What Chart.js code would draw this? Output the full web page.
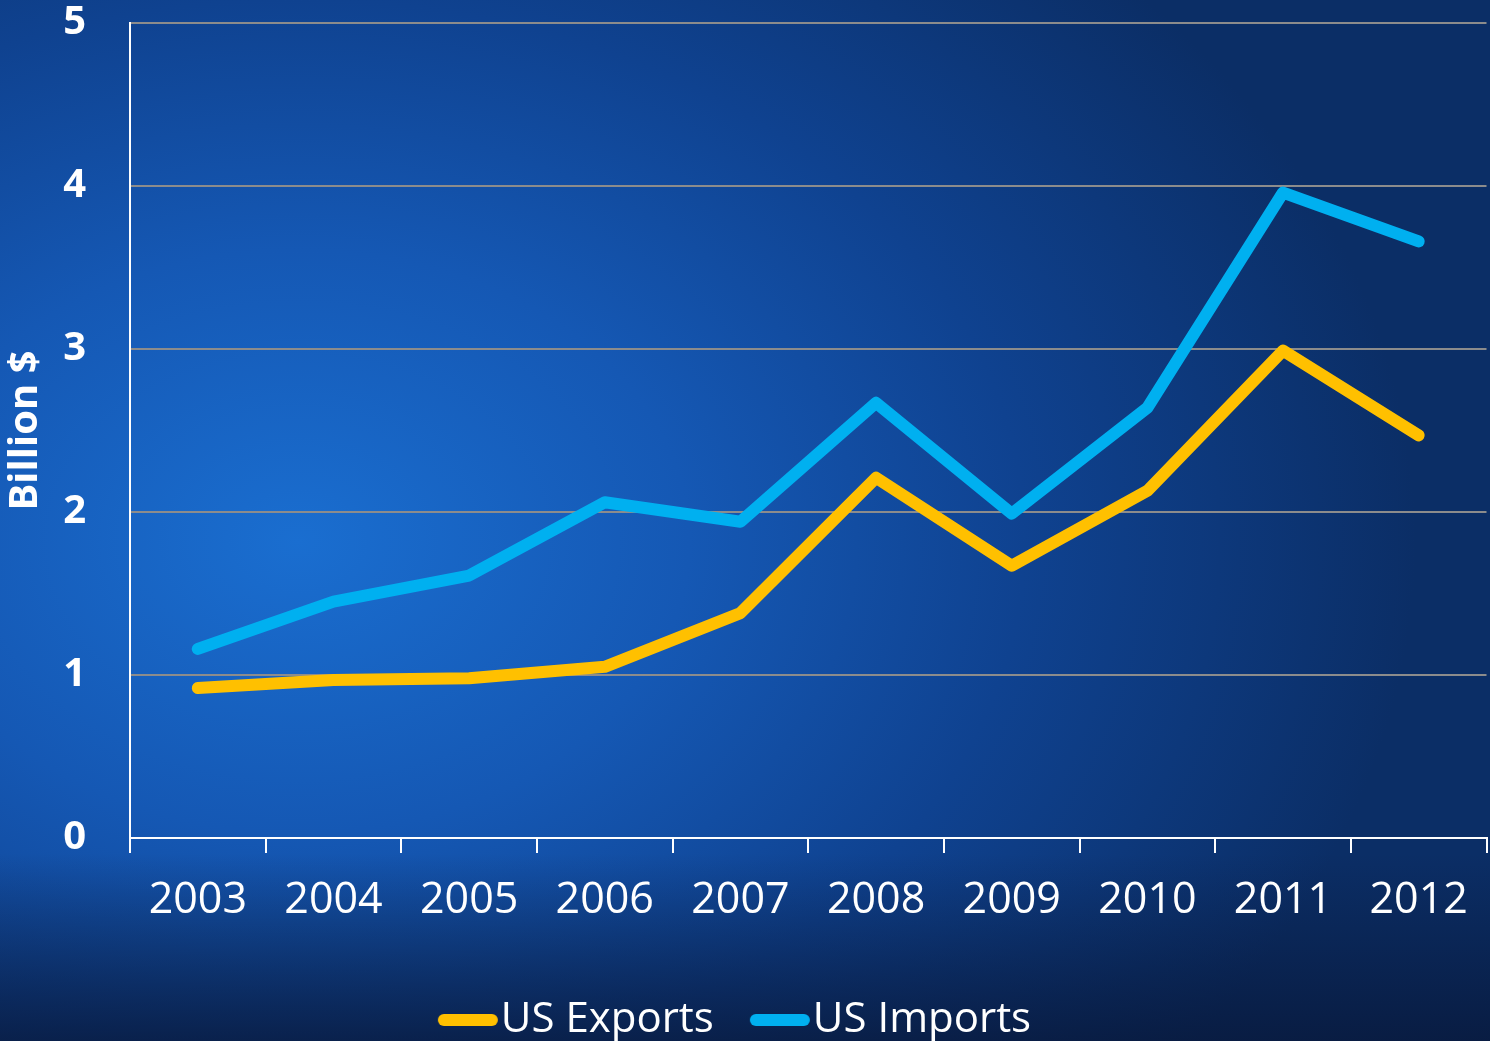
<!DOCTYPE html>
<html>
<head>
<meta charset="utf-8">
<script src="https://cdn.jsdelivr.net/npm/chart.js@4.4.1/dist/chart.umd.min.js"></script>
<style>
    html, body {
        margin: 0;
        padding: 0;
        width: 1490px;
        height: 1041px;
        overflow: hidden;
    }
    #wrap {
        width: 1490px;
        height: 1041px;
        background:
            linear-gradient(180deg, rgba(8, 24, 58, 0) 0%, rgba(8, 24, 58, 0) 82%, rgba(8, 24, 58, 0.8) 100%),
            radial-gradient(ellipse 75% 80% at 20% 52%, #1a6ed0 0%, #1558b4 35%, #0f4290 65%, #0b2e66 100%);
    }
</style>
</head>
<body>
<div id="wrap">
    <canvas id="tradeChart" width="1490" height="1041"></canvas>
</div>
<script>
const years = ["2003", "2004", "2005", "2006", "2007", "2008", "2009", "2010", "2011", "2012"];
const usExports = [0.92, 0.97, 0.98, 1.05, 1.38, 2.21, 1.67, 2.13, 2.99, 2.47];
const usImports = [1.16, 1.45, 1.61, 2.06, 1.94, 2.67, 1.99, 2.64, 3.96, 3.66];
const yTicks = [0, 1, 2, 3, 4, 5];

const FONT = "'Open Sans', 'Noto Sans', sans-serif";

// small rounded bar used as the legend marker
function legendSwatch(color) {
    const c = document.createElement("canvas");
    c.width = 62;
    c.height = 14;
    const g = c.getContext("2d");
    g.strokeStyle = color;
    g.lineWidth = 12;
    g.lineCap = "round";
    g.beginPath();
    g.moveTo(7, 7);
    g.lineTo(55, 7);
    g.stroke();
    return c;
}

function lineSeries(label, data, color) {
    return {
        label: label,
        data: data,
        borderColor: color,
        backgroundColor: color,
        borderWidth: 12,
        borderCapStyle: "round",
        borderJoinStyle: "round",
        pointRadius: 0,
        pointHoverRadius: 0,
        pointStyle: legendSwatch(color),
        tension: 0
    };
}

const ctx = document.getElementById("tradeChart");

new Chart(ctx, {
    type: "line",
    data: {
        labels: years,
        datasets: [
            lineSeries("US Exports", usExports, "#ffc000"),
            lineSeries("US Imports", usImports, "#00b0f0")
        ]
    },
    options: {
        responsive: false,
        animation: false,
        layout: {
            padding: { left: 0, right: 3, top: 23, bottom: -10 }
        },
        plugins: {
            tooltip: { enabled: false },
            legend: {
                position: "bottom",
                labels: {
                    color: "#ffffff",
                    font: { family: FONT, size: 42 },
                    usePointStyle: true,
                    pointStyleWidth: 24,
                    padding: 54
                }
            }
        },
        scales: {
            x: {
                offset: true,
                grid: {
                    offset: true,
                    drawOnChartArea: false,
                    drawTicks: true,
                    tickLength: 15,
                    color: "#ffffff",
                    lineWidth: 2
                },
                border: { color: "#ffffff", width: 2 },
                ticks: {
                    color: "#ffffff",
                    font: { family: FONT, size: 43 },
                    padding: 22,
                    maxRotation: 0
                },
                afterFit(scale) { scale.height = 107; }
            },
            y: {
                min: 0,
                max: 5,
                afterBuildTicks(scale) { scale.ticks = yTicks.map(v => ({ value: v })); },
                grid: {
                    drawTicks: false,
                    color: "#8c8c8c",
                    lineWidth: 2
                },
                border: { color: "#ffffff", width: 2 },
                ticks: {
                    color: "#ffffff",
                    font: { family: FONT, size: 40, weight: "bold" },
                    padding: 44
                },
                title: {
                    display: true,
                    text: "Billion $",
                    color: "#ffffff",
                    font: { family: FONT, size: 40, weight: "bold" },
                    padding: { top: 2, bottom: 0 }
                },
                afterFit(scale) {
                    scale.width = 130;
                    scale.paddingTop = 0;
                    scale.paddingBottom = 0;
                }
            }
        }
    }
});
</script>
</body>
</html>
